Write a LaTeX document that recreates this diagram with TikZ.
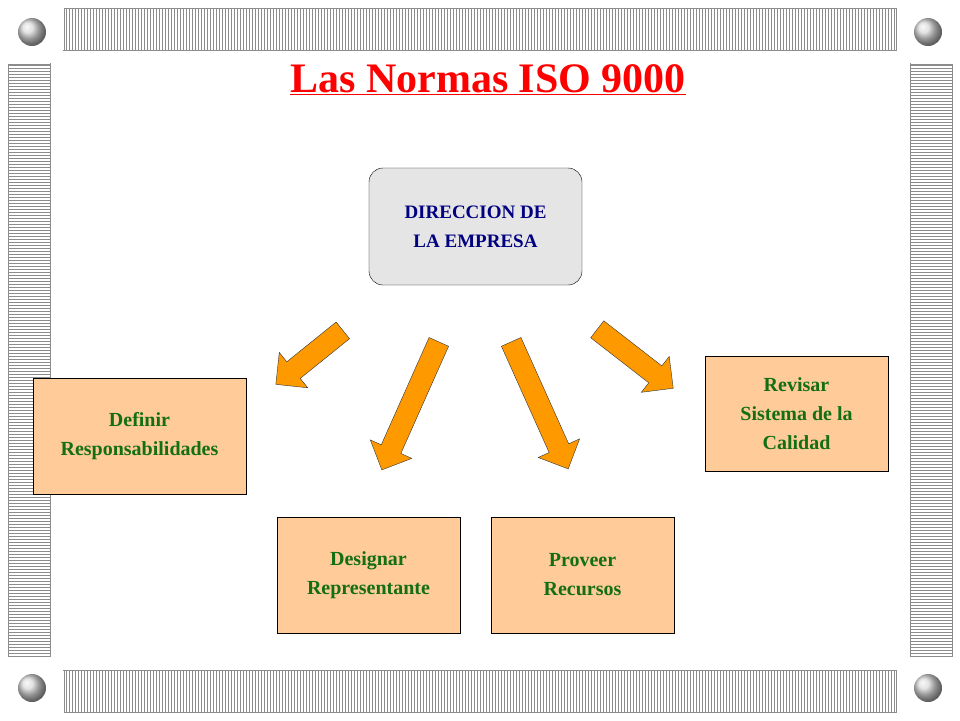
\documentclass[tikz,border=0pt]{standalone}
\usepackage{fontspec}
\setmainfont{Liberation Serif}
\usetikzlibrary{shapes.arrows,patterns,calc}

\definecolor{arroworange}{RGB}{255,153,0}
\definecolor{peach}{RGB}{255,204,153}
\definecolor{boxgreen}{RGB}{20,110,20}
\definecolor{navytext}{RGB}{0,0,128}
\definecolor{framegray}{RGB}{140,140,140}

\tikzset{
  taskbox/.style={draw, fill=peach, minimum width=183pt, minimum height=116pt,
    text=boxgreen, font=\bfseries\fontsize{20}{29}\selectfont, align=center},
  headbox/.style={draw, rounded corners=14pt, fill=black!10, minimum width=213pt,
    minimum height=117pt, text=navytext, font=\bfseries\fontsize{19}{29}\selectfont, align=center},
  blockarrow/.style={single arrow, draw=black!80, fill=arroworange, inner sep=10.5pt,
    single arrow head extend=12pt, single arrow head indent=0pt},
  strip/.style={draw=framegray, fill=white, pattern color=framegray},
  cornerbox/.style={draw=framegray, double=white, double distance=2pt, fill=white}
}

\newcommand\blockarrow[2]{%
  \path let \p1=(#1), \p2=(#2), \n1={atan2(\y2-\y1,\x2-\x1)}, \n2={veclen(\x2-\x1,\y2-\y1)} in
    node[blockarrow, minimum height=\n2, rotate=\n1] at ($(#1)!0.5!(#2)$) {};}

\begin{document}
\begin{tikzpicture}[x=1pt,y=-1pt]
  \useasboundingbox (0,0) rectangle (960,720);
  % frame
  \fill[white] (0,0) rectangle (960,720);
  \draw[strip, pattern=vertical lines] (64,8) rectangle (896,50);
  \draw[strip, pattern=vertical lines] (64,670) rectangle (896,712);
  \draw[strip, pattern=horizontal lines] (8,64) rectangle (50,656);
  \draw[strip, pattern=horizontal lines] (910,64) rectangle (952,656);
  \draw[framegray] (64,50) -- (50,50) -- (50,64) (896,50) -- (910,50) -- (910,64)
    (50,656) -- (50,670) -- (64,670) (910,656) -- (910,670) -- (896,670);
  \foreach \cx/\cy in {32/32, 928/32, 32/688, 928/688} {
    \draw[cornerbox] (\cx-30,\cy-30) rectangle (\cx+30,\cy+30);
    \shade[ball color=white!70!gray] (\cx,\cy) circle (14);
  }

  % title
  \node[text=red, font=\bfseries\fontsize{42}{50}\selectfont] (title) at (488,80) {\underline{Las Normas ISO 9000}};

  % boxes
  \node[headbox] (dir) at (475.5,226.5) {DIRECCION DE\\LA EMPRESA};
  \node[taskbox, minimum width=213pt] (definir) at (139.5,436) {Definir\\Responsabilidades};
  \node[taskbox] (designar) at (368.5,575) {Designar\\Representante};
  \node[taskbox] (proveer) at (582.5,575) {Proveer\\Recursos};
  \node[taskbox, minimum height=115pt] (revisar) at (796.5,413.5) {Revisar\\Sistema de la\\Calidad};

  % arrows
  \coordinate (a1) at (347,327); \coordinate (b1) at (280,381);
  \coordinate (a2) at (441,337); \coordinate (b2) at (384,465);
  \coordinate (a3) at (509,337); \coordinate (b3) at (566,464);
  \coordinate (a4) at (593,326); \coordinate (b4) at (669,385);
  \foreach \i in {1,...,4} {
    \blockarrow{a\i}{b\i}
  }
\end{tikzpicture}
\end{document}
